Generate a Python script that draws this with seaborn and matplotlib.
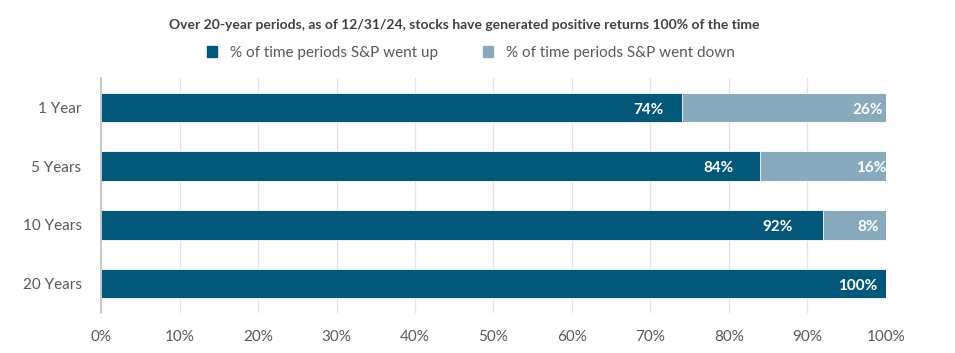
import pandas as pd
import matplotlib.pyplot as plt
import seaborn as sns
from matplotlib.patches import Patch

periods = ["1 Year", "5 Years", "10 Years", "20 Years"]
went_up = [74, 84, 92, 100]
went_down = [26, 16, 8, 0]
x_ticks = [0, 10, 20, 30, 40, 50, 60, 70, 80, 90, 100]

DARK = "#03587A"
LIGHT = "#88AABC"
TEXT = "#595959"


def main():
    sns.set_style("white")
    plt.rcParams["font.family"] = ["Lato", "DejaVu Sans"]

    df = pd.DataFrame({"period": periods, "up": went_up, "down": went_down})
    df["total"] = df["up"] + df["down"]

    fig = plt.figure(figsize=(9.55, 3.53), dpi=100)
    ax = fig.add_axes([0.1058, 0.1133, 0.8219, 0.6657])

    sns.barplot(data=df, y="period", x="total", color=LIGHT, orient="h",
                width=0.5, ax=ax, saturation=1, edgecolor="white", linewidth=0.6)
    sns.barplot(data=df, y="period", x="up", color=DARK, orient="h",
                width=0.5, ax=ax, saturation=1, edgecolor="white", linewidth=0.6)

    # data labels sit at the inside end of each segment (excel-ish spacing)
    pad_up = [2.4, 3.4, 3.9, 1.1]
    pad_down = [0.4, -0.1, 0.9, 0.0]
    for i, row in df.iterrows():
        ax.text(row["up"] - pad_up[i], i + 0.04, f"{row['up']}%", ha="right", va="center",
                color="white", fontsize=11, fontweight="bold")
        if row["down"] > 0:
            ax.text(row["total"] - pad_down[i], i + 0.04, f"{row['down']}%", ha="right",
                    va="center", color="white", fontsize=11, fontweight="bold")

    ax.set_xlim(0, 100)
    ax.set_ylim(3.5, -0.5)
    ax.set_xticks(x_ticks)
    ax.set_xticklabels([f"{t}%" for t in x_ticks])
    ax.set_xlabel("")
    ax.set_ylabel("")
    ax.tick_params(axis="both", length=0, labelsize=11, colors=TEXT)
    ax.tick_params(axis="x", pad=12)
    ax.tick_params(axis="y", pad=14)
    ax.xaxis.grid(True, color="#E3E3E3", linewidth=0.9)
    ax.set_axisbelow(True)
    for side in ["top", "right", "bottom"]:
        ax.spines[side].set_visible(False)
    ax.spines["left"].set_color("#BFBFBF")
    ax.spines["left"].set_linewidth(1.2)

    fig.text(0.486, 0.928, "Over 20-year periods, as of 12/31/24, stocks have generated positive returns 100% of the time",
             ha="center", va="center", fontsize=10, fontweight="bold", color="#404040")

    handles = [Patch(color=DARK, label="% of time periods S&P went up"),
               Patch(color=LIGHT, label="% of time periods S&P went down")]
    fig.legend(handles=handles, loc="center", bbox_to_anchor=(0.493, 0.85), ncol=2,
               frameon=False, fontsize=11, labelcolor=TEXT, handlelength=0.7,
               handleheight=0.7, columnspacing=2.9, handletextpad=0.85)

    fig.savefig("out.png", dpi=100)
    plt.close(fig)


if __name__ == "__main__":
    main()
